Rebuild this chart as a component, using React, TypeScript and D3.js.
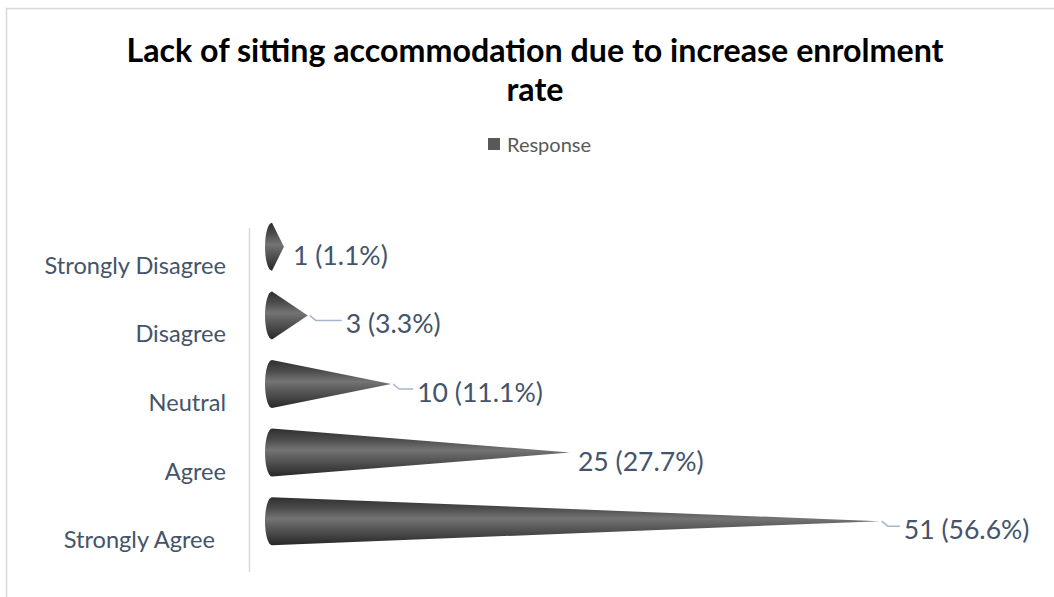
import React from "react";
import * as d3 from "d3";

// Survey responses, listed top to bottom
const categories = ["Strongly Disagree", "Disagree", "Neutral", "Agree", "Strongly Agree"];
const counts = [1, 3, 10, 25, 51];
const percentLabels = ["1.1%", "3.3%", "11.1%", "27.7%", "56.6%"];
const seriesName = "Response";
const titleLines = ["Lack of sitting accommodation due to increase enrolment", "rate"];

// Horizontal nudges for the data labels (px past the cone tip)
const labelNudge = [9, 38, 26, 8, 24];

const W = 1054;
const H = 597;
const FONT = "Lato, Carlito, Calibri, sans-serif";
const TEXT = "#44546a";

export default function App() {
  const x = d3.scaleLinear().domain([0, 60]).range([272, 987]);
  const y = d3
    .scaleBand<string>()
    .domain(categories)
    .range([212.5, 555.5])
    .paddingInner(0.3)
    .paddingOuter(0.15);

  const r = y.bandwidth() / 2;
  const rx = 7;
  const x0 = x(0);

  return (
    <svg
      width={W}
      height={H}
      viewBox={`0 0 ${W} ${H}`}
      style={{ position: "absolute", left: 0, top: 0, background: "#fff" }}
    >
      <defs>
        <linearGradient id="coneShade" x1="0" y1="0" x2="0" y2="1">
          <stop offset="0%" stopColor="#2f2f2f" />
          <stop offset="22%" stopColor="#4a4a4a" />
          <stop offset="45%" stopColor="#747474" />
          <stop offset="60%" stopColor="#5e5e5e" />
          <stop offset="85%" stopColor="#3c3c3c" />
          <stop offset="100%" stopColor="#262626" />
        </linearGradient>
      </defs>

      {/* chart area frame */}
      <rect x={6.5} y={8.5} width={W + 10} height={H + 10} fill="#fff" stroke="#d9d9d9" strokeWidth={1.5} />

      {/* title */}
      {titleLines.map((t, i) => (
        <text
          key={t}
          x={535}
          y={49 + i * 39}
          textAnchor="middle"
          dominantBaseline="central"
          fontFamily={FONT}
          fontWeight={700}
          fontSize={32.2}
          fill="#000"
        >
          {t}
        </text>
      ))}

      {/* legend */}
      <rect x={488} y={138} width={12} height={12} fill="#595959" />
      <text x={507} y={144} dominantBaseline="central" fontFamily={FONT} fontSize={20} fill="#595959">
        {seriesName}
      </text>

      {/* category axis */}
      <line x1={249.5} x2={249.5} y1={228} y2={572} stroke="#d9d9d9" strokeWidth={1.5} />
      {categories.map((c, i) => {
        const cy = (y(c) as number) + r;
        return (
          <text
            key={c}
            x={i === categories.length - 1 ? 215 : 226}
            y={cy + 18}
            textAnchor="end"
            dominantBaseline="central"
            fontFamily={FONT}
            fontSize={23.6}
            fill={TEXT}
          >
            {c}
          </text>
        );
      })}

      {/* cones */}
      {categories.map((c, i) => {
        const cy = (y(c) as number) + r;
        const tip = x(counts[i]);
        const d = `M${x0},${cy - r} L${tip},${cy} L${x0},${cy + r} A${rx},${r} 0 0 1 ${x0},${cy - r} Z`;
        return <path key={c} d={d} fill="url(#coneShade)" />;
      })}

      {/* data labels with leader lines */}
      {categories.map((c, i) => {
        const cy = (y(c) as number) + r;
        const tip = x(counts[i]);
        const lx = tip + labelNudge[i];
        const showLeader = lx - tip > 15;
        return (
          <g key={c}>
            {showLeader && (
              <path
                d={`M${tip + 2},${cy} L${tip + 8},${cy + 5} L${lx - 4},${cy + 5}`}
                fill="none"
                stroke="#a6b6cc"
                strokeWidth={1.5}
              />
            )}
            <text
              x={lx}
              y={cy + 8}
              dominantBaseline="central"
              fontFamily={FONT}
              fontSize={26.6}
              fill={TEXT}
            >
              {`${counts[i]} (${percentLabels[i]})`}
            </text>
          </g>
        );
      })}
    </svg>
  );
}
